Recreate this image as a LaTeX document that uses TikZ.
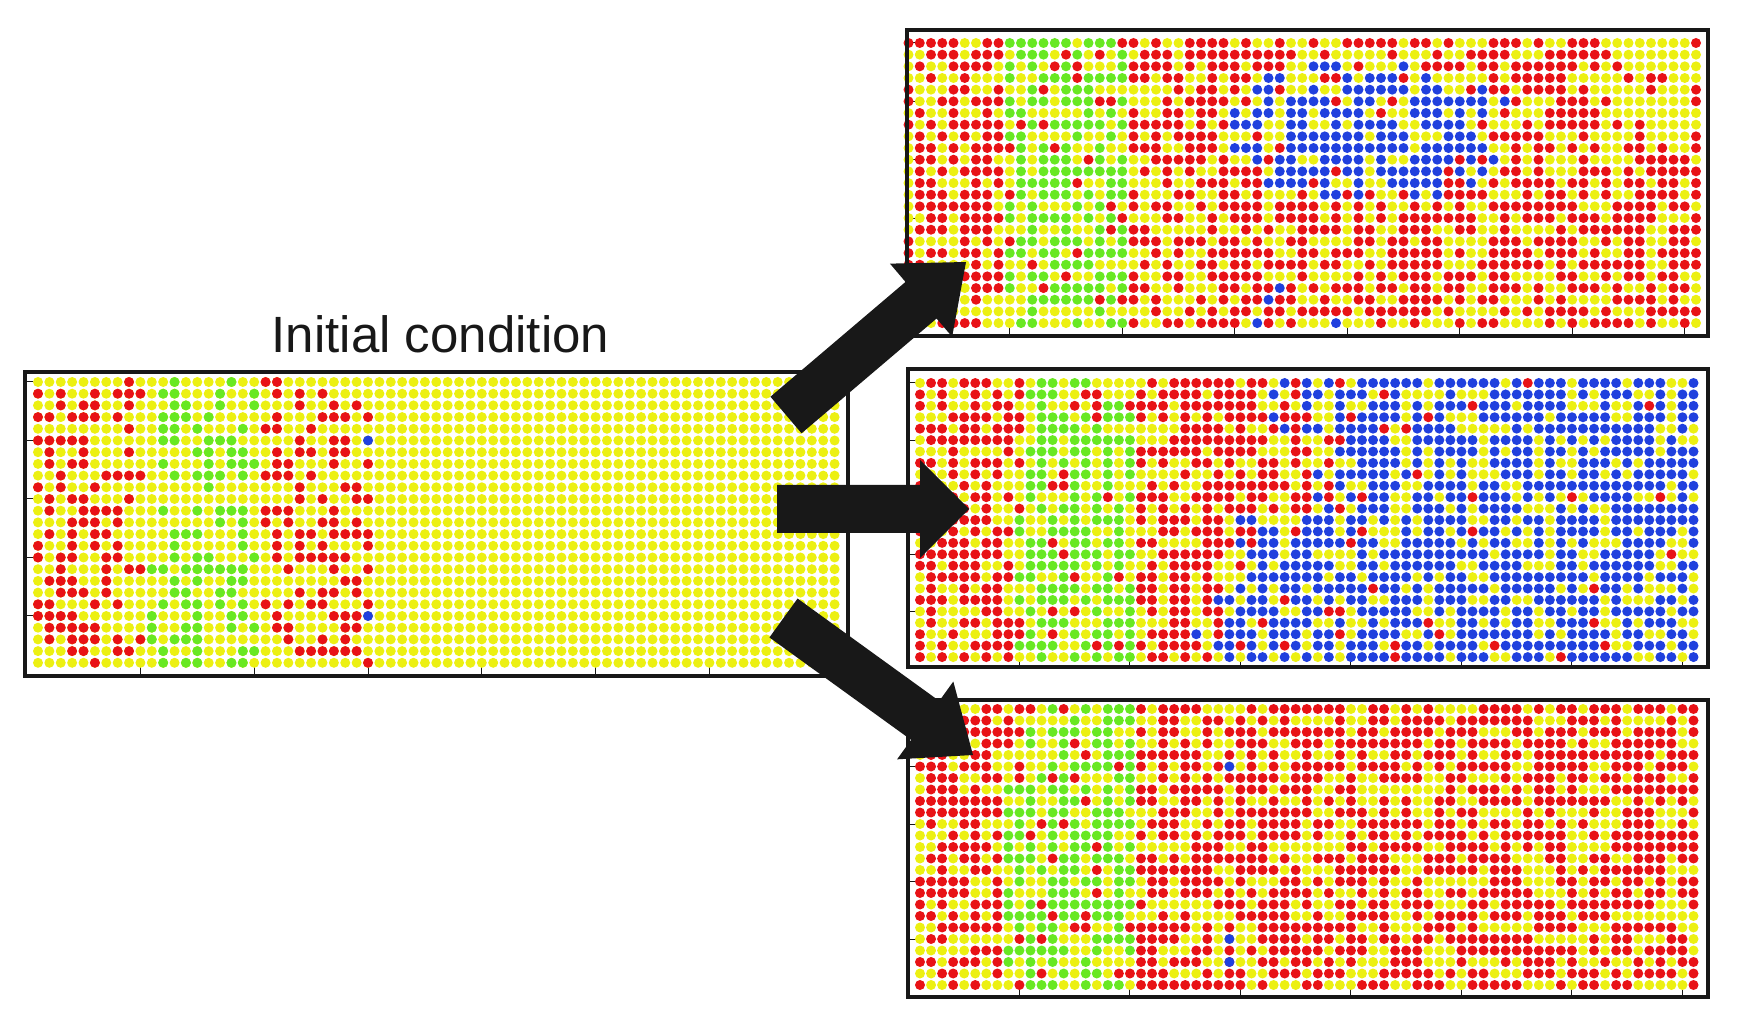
\documentclass[tikz,border=0pt]{standalone}
\usepackage{fontspec}
\setmainfont{Liberation Sans}
\usetikzlibrary{calc}
\definecolor{dY}{RGB}{236,240,18}
\definecolor{dR}{RGB}{232,18,22}
\definecolor{dG}{RGB}{104,232,34}
\definecolor{dB}{RGB}{32,64,222}
\definecolor{ink}{RGB}{24,24,24}
\tikzset{
  panel/.style={draw=ink, line width=2.2pt, inner sep=0pt, outer sep=0pt, rectangle},
  tickmark/.style={draw=ink, line width=0.5pt},
  arrowfill/.style={fill=ink},
  rowbox/.style={anchor=base west, inner sep=0pt, outer sep=0pt},
  title/.style={font=\fontsize{25.5}{30}\selectfont, text=ink, inner sep=0pt, anchor=base},
}
\newcommand\dotr{2.5pt}
\newsavebox\dotboxY \newsavebox\dotboxR \newsavebox\dotboxG \newsavebox\dotboxB
\newcommand\makedotbox[2]{\sbox#1{\begin{pgfpicture}\pgfsetbaseline{0pt}\pgfsetfillcolor{#2}\pgfpathcircle{\pgfpointorigin}{\dotr}\pgfusepath{fill}\end{pgfpicture}}}
\AtBeginDocument{%
  \makedotbox\dotboxY{dY}\makedotbox\dotboxR{dR}\makedotbox\dotboxG{dG}\makedotbox\dotboxB{dB}}
\def\dsp{5.6pt}
\def\dorow#1{\ifx#1\relax\else\hbox to 0pt{\hss\usebox{\csname dotbox#1\endcsname}\hss}\kern\dsp\expandafter\dorow\fi}
\def\yrow{YYYYYYYYYYYYYYYYYYYYYYYYYYYYYYYYYYYYYYYYYYYYYYYYYYYYYYYYYYYYYYYYYYYYYYY}
\newcommand\setp[3]{\def\pb{#1}\def\pg{#2}\def\pr{#3}}
\newcommand\ldot[3]{\fill[fill=#3] ({38+11.38*#2},{382+11.7*#1}) circle[radius=\dotr];}
\newcommand\lrow[2]{\foreach \c/\k in {#2}{\ldot{#1}{\c}{\k}}}
\newcommand\pickcolor{%
  \pgfmathtruncatemacro\k{\u<\pb ? 3 : (\u<\pb+\pg ? 2 : (\u<\pb+\pg+\pr ? 1 : 0))}%
  \ifcase\k \def\cl{Y}\or \def\cl{R}\or \def\cl{G}\or \def\cl{B}\fi
  \xdef\rowcodes{\rowcodes\cl}}
\newcommand\blockarrow[5]{%
  \coordinate (#1-b) at ($(#2)!#5!(#1)$);
  \fill[arrowfill] ($(#1)!#3!90:(#2)$) -- ($(#1-b)!#3!-90:(#1)$) -- ($(#1-b)!#4!-90:(#1)$)
    -- (#2) -- ($(#1-b)!#4!90:(#1)$) -- ($(#1-b)!#3!90:(#1)$) -- ($(#1)!#3!-90:(#2)$) -- cycle;}
\begin{document}
\begin{tikzpicture}[x=0.5pt, y=-0.5pt]
\useasboundingbox (0,0) rectangle (1740,1031);

% ---------- ticks ----------
\foreach \r in {0,5,...,20} {
  \draw[tickmark] (25,{382+11.7*\r}) -- ++(8,0);
  \draw[tickmark] (908,{43+11.67*\r}) -- ++(8,0);
  \draw[tickmark] (908,{383+11.42*\r}) -- ++(8,0);
  \draw[tickmark] (908,{709+11.5*\r}) -- ++(8,0);
}
\foreach \c in {9,19,...,69} {
  \draw[tickmark] ({38+11.38*\c},676) -- ++(0,-9);
  \draw[tickmark] ({908.5+11.25*\c},336) -- ++(0,-9);
  \draw[tickmark] ({920+11.05*\c},667) -- ++(0,-9);
  \draw[tickmark] ({920+11.05*\c},997) -- ++(0,-9);
}

% ---------- left panel: initial condition ----------
\def\dsp{5.69pt}
\foreach \r in {0,...,24} {\node[rowbox] (lp\r) at (38,{382+11.7*\r}) {\expandafter\dorow\yrow\relax};}
\lrow{0}{8/dR,20/dR,21/dR,12/dG,17/dG}
\lrow{1}{0/dR,2/dR,5/dR,7/dR,8/dR,9/dR,21/dR,23/dR,25/dR,11/dG,12/dG,16/dG,19/dG}
\lrow{2}{2/dR,4/dR,5/dR,8/dR,23/dR,26/dR,28/dR,12/dG,13/dG,16/dG,19/dG}
\lrow{3}{0/dR,1/dR,3/dR,4/dR,5/dR,7/dR,21/dR,25/dR,26/dR,27/dR,29/dR,11/dG,12/dG,13/dG,15/dG}
\lrow{4}{8/dR,20/dR,21/dR,24/dR,11/dG,12/dG,14/dG,18/dG}
\lrow{5}{0/dR,1/dR,2/dR,3/dR,4/dR,23/dR,26/dR,27/dR,11/dG,12/dG,15/dG,16/dG,17/dG,29/dB}
\lrow{6}{1/dR,4/dR,8/dR,21/dR,23/dR,24/dR,26/dR,27/dR,14/dG,15/dG,17/dG,18/dG}
\lrow{7}{1/dR,3/dR,4/dR,21/dR,22/dR,26/dR,29/dR,11/dG,15/dG,17/dG,18/dG,19/dG}
\lrow{8}{2/dR,6/dR,7/dR,8/dR,9/dR,20/dR,21/dR,22/dR,24/dR,12/dG,14/dG,15/dG,16/dG,18/dG}
\lrow{9}{0/dR,2/dR,5/dR,23/dR,27/dR,28/dR,15/dG}
\lrow{10}{1/dR,3/dR,4/dR,8/dR,23/dR,25/dR,28/dR,29/dR}
\lrow{11}{1/dR,4/dR,5/dR,6/dR,7/dR,20/dR,21/dR,22/dR,26/dR,11/dG,14/dG,16/dG,17/dG,18/dG}
\lrow{12}{3/dR,4/dR,5/dR,7/dR,20/dR,22/dR,25/dR,26/dR,28/dR,16/dG,18/dG}
\lrow{13}{1/dR,3/dR,5/dR,6/dR,21/dR,23/dR,24/dR,26/dR,27/dR,28/dR,29/dR,12/dG,13/dG,14/dG,18/dG}
\lrow{14}{0/dR,3/dR,5/dR,7/dR,21/dR,23/dR,25/dR,29/dR,12/dG,18/dG}
\lrow{15}{0/dR,2/dR,3/dR,6/dR,7/dR,21/dR,23/dR,24/dR,25/dR,26/dR,27/dR,12/dG,14/dG,15/dG,19/dG}
\lrow{16}{2/dR,6/dR,8/dR,9/dR,22/dR,26/dR,29/dR,10/dG,11/dG,13/dG,14/dG,15/dG,16/dG,17/dG,18/dG}
\lrow{17}{1/dR,2/dR,3/dR,6/dR,27/dR,28/dR,12/dG,14/dG,17/dG,18/dG}
\lrow{18}{2/dR,3/dR,4/dR,6/dR,23/dR,25/dR,26/dR,28/dR,12/dG,13/dG,16/dG,17/dG}
\lrow{19}{0/dR,1/dR,5/dR,7/dR,20/dR,22/dR,24/dR,25/dR,29/dR,11/dG,13/dG,14/dG,16/dG,18/dG}
\lrow{20}{0/dR,1/dR,2/dR,3/dR,21/dR,26/dR,27/dR,28/dR,10/dG,14/dG,17/dG,18/dG,29/dB}
\lrow{21}{1/dR,2/dR,3/dR,4/dR,5/dR,21/dR,22/dR,27/dR,28/dR,10/dG,13/dG,14/dG,17/dG,19/dG}
\lrow{22}{1/dR,3/dR,4/dR,5/dR,7/dR,9/dR,22/dR,25/dR,27/dR,10/dG,12/dG,13/dG,14/dG}
\lrow{23}{3/dR,4/dR,7/dR,8/dR,23/dR,24/dR,25/dR,26/dR,27/dR,28/dR,11/dG,14/dG,18/dG,19/dG}
\lrow{24}{5/dR,29/dR,11/dG,13/dG,14/dG,17/dG,18/dG}

% ---------- top right panel ----------
\def\dsp{5.625pt}
\pgfmathsetseed{4242}
\foreach \r in {0,...,24} {
  \gdef\rowcodes{}
  \foreach \c in {0,...,70} {
    \pgfmathsetmacro\u{rnd}
    \pgfmathsetmacro\dd{((\c-41)/13)^2+((\r-7.5)/6.5)^2}
    \pgfmathtruncatemacro\z{(\c>=9 && \c<=19) ? 1 : ((\dd<0.45) ? 2 : ((\dd<1) ? 3 : ((\c>=27 && \c<=38 && \r>=21) ? 4 : ((\c>=62 && \r<=8) ? 5 : 0))))}
    \ifcase\z \setp{0}{0}{0.58}\or \setp{0}{0.56}{0.08}\or \setp{0.72}{0}{0.08}\or \setp{0.4}{0}{0.25}\or \setp{0.15}{0}{0.5}\or \setp{0}{0}{0.12}\fi
    \pickcolor
  }
  \node[rowbox] (ta\r) at (908.5,{43+11.67*\r}) {\expandafter\dorow\rowcodes\relax};
}

% ---------- middle right panel ----------
\def\dsp{5.525pt}
\pgfmathsetseed{777}
\foreach \r in {0,...,24} {
  \gdef\rowcodes{}
  \foreach \c in {0,...,70} {
    \pgfmathsetmacro\u{rnd}
    \pgfmathtruncatemacro\bs{\r<=4 ? 35 : (\r<=11 ? 39 : (\r<=16 ? 31 : 28))}
    \pgfmathtruncatemacro\gs{\r<=11 ? 10 : 9}
    \pgfmathtruncatemacro\z{(\c>=\gs && \c<=19) ? 1 : ((\c>=\bs) ? 2 : ((\c>=\bs-3) ? 3 : 0))}
    \ifcase\z \setp{0}{0}{0.58}\or \setp{0}{0.56}{0.08}\or \setp{0.62}{0}{0.04}\or \setp{0.3}{0}{0.35}\fi
    \pickcolor
  }
  \node[rowbox] (tb\r) at (920,{383+11.42*\r}) {\expandafter\dorow\rowcodes\relax};
}

% ---------- bottom right panel ----------
\pgfmathsetseed{31337}
\foreach \r in {0,...,24} {
  \gdef\rowcodes{}
  \foreach \c in {0,...,70} {
    \pgfmathsetmacro\u{rnd}
    \pgfmathtruncatemacro\gs{\r<=6 ? 10 : 8}
    \pgfmathtruncatemacro\z{(\c>=\gs && \c<=19) ? 1 : 0}
    \ifcase\z \setp{0}{0}{0.6}\or \setp{0}{0.56}{0.08}\fi
    \pickcolor
  }
  \node[rowbox] (tc\r) at (920,{709+11.5*\r}) {\expandafter\dorow\rowcodes\relax};
}
\foreach \c/\r in {28/5,28/20,28/22} {\fill[fill=dB] ({920+11.05*\c},{709+11.5*\r}) circle[radius=\dotr];}

% ---------- panel frames ----------
\node[panel, minimum width=411.5pt, minimum height=152pt] (init) at (436.5,524) {};
\node[panel, minimum width=400.5pt, minimum height=153pt] (outA) at (1307.5,183) {};
\node[panel, minimum width=400pt, minimum height=149pt] (outB) at (1308,518) {};
\node[panel, minimum width=400pt, minimum height=148.5pt] (outC) at (1308,848.5) {};

% ---------- title ----------
\node[title] (title) at (440.5,353) {Initial condition};

% ---------- block arrows ----------
\coordinate (a1s) at (786,415);   \coordinate (a1e) at (966,262);
\coordinate (a2s) at (777,509);   \coordinate (a2e) at (969,509);
\coordinate (a3s) at (783.5,618); \coordinate (a3e) at (973,755);
\blockarrow{a1s}{a1e}{12pt}{24pt}{29.5pt}
\blockarrow{a2s}{a2e}{12pt}{24.5pt}{24.5pt}
\blockarrow{a3s}{a3e}{12pt}{24pt}{29.5pt}
\end{tikzpicture}
\end{document}
